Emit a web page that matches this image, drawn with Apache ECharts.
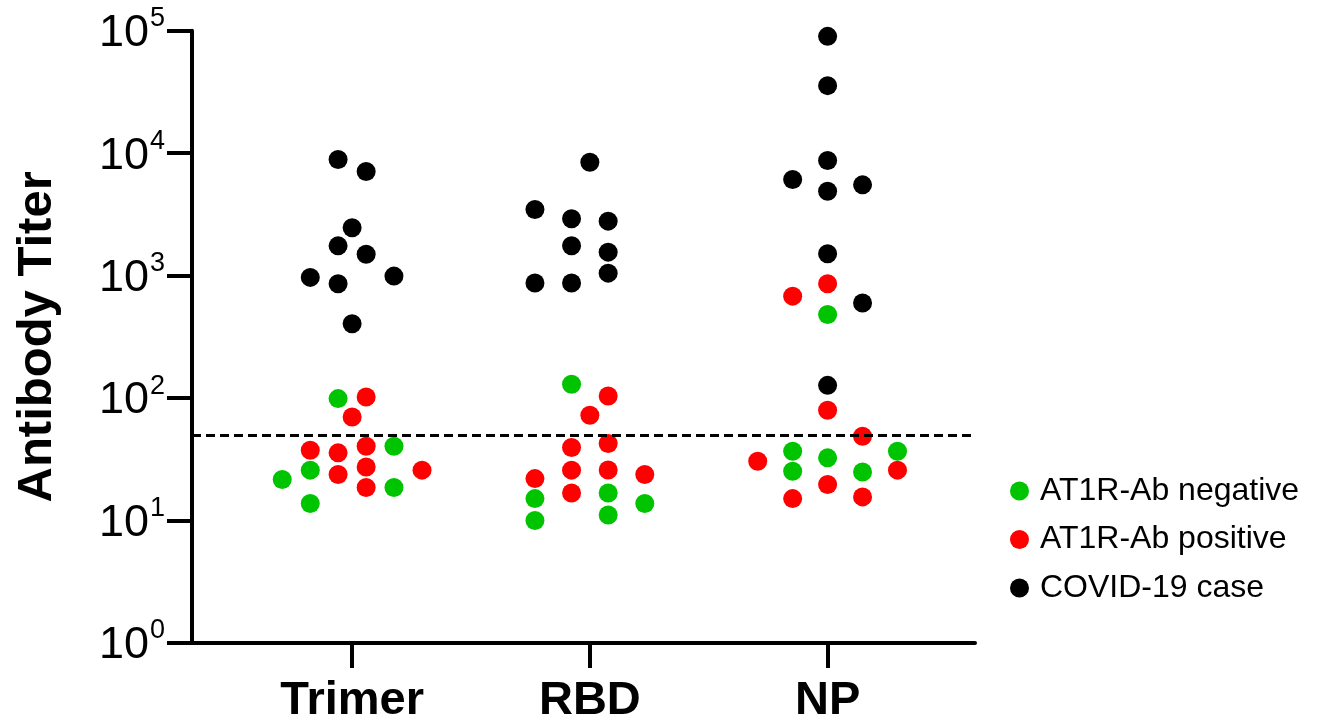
<!DOCTYPE html>
<html>
<head>
<meta charset="utf-8">
<script src="https://cdn.jsdelivr.net/npm/echarts@6/dist/echarts.min.js"></script>
<style>
html,body{margin:0;padding:0;background:#fff;}
#chart{width:1318px;height:721px;}
</style>
</head>
<body>
<div id="chart"></div>
<script>
// ---- data ----
const categories = ['Trimer', 'RBD', 'NP'];
const seriesNames = ['AT1R-Ab negative', 'AT1R-Ab positive', 'COVID-19 case'];
const yTickExponents = [0, 1, 2, 3, 4, 5];
const cutoffTiter = 50;

// titers per category [Trimer, RBD, NP]
const negativeTiter = [
  [99, 40.4, 25.8, 21.6, 18.6, 13.8],
  [129.6, 15.1, 16.8, 13.8, 10, 11.1],
  [482, 36.8, 32.5, 36.8, 25.3, 24.9]
];
const negativeJitter = [
  [-0.059, 0.176, -0.176, -0.294, 0.176, -0.176],
  [-0.077, -0.231, 0.077, 0.231, -0.231, 0.077],
  [0, -0.147, 0, 0.294, -0.147, 0.147]
];
const positiveTiter = [
  [102, 70, 37.5, 35.7, 40.4, 23.8, 27.4, 25.8, 18.6],
  [104, 72.4, 39.5, 42.5, 22, 25.8, 25.9, 23.8, 16.8],
  [859, 680, 79.5, 48.8, 30.5, 25.8, 19.7, 15.1, 15.6]
];
const positiveJitter = [
  [0.059, 0, -0.176, -0.059, 0.059, -0.059, 0.059, 0.294, 0.059],
  [0.077, 0, -0.077, 0.077, -0.231, -0.077, 0.077, 0.231, -0.077],
  [0, -0.147, 0, 0.147, -0.294, 0.294, 0, -0.147, 0.147]
];
const covidTiter = [
  [8870, 7080, 2460, 1750, 1497, 967, 859, 991, 405],
  [8430, 3467, 2911, 2785, 1754, 1555, 1048, 869, 869],
  [89900, 35600, 8700, 6090, 4890, 5510, 1508, 597, 127]
];
const covidJitter = [
  [-0.059, 0.059, 0, -0.059, 0.059, -0.176, -0.059, 0.176, 0],
  [0, -0.231, -0.077, 0.077, -0.077, 0.077, 0.077, -0.231, -0.077],
  [0, 0, 0, -0.147, 0, 0.147, 0, 0.147, 0]
];

function buildPoints(titers, jitters) {
  const pts = [];
  titers.forEach(function (arr, c) {
    arr.forEach(function (v, i) {
      pts.push([c + 1 + jitters[c][i], v]);
    });
  });
  return pts;
}

const FONT = '"Liberation Sans", Arial, Helvetica, sans-serif';
const chart = echarts.init(document.getElementById('chart'), null, {renderer: 'canvas'});

const dotSize = 19;
function scatter(name, color, titers, jitters) {
  return {
    name: name,
    type: 'scatter',
    z: 3,
    symbol: 'circle',
    symbolSize: dotSize,
    itemStyle: {color: color, opacity: 1},
    data: buildPoints(titers, jitters)
  };
}

const option = {
  animation: false,
  backgroundColor: '#ffffff',
  textStyle: {fontFamily: FONT},
  grid: {left: 192, right: 343, top: 30.7, bottom: 78, containLabel: false, outerBoundsMode: 'none'},
  legend: {
    orient: 'vertical',
    left: 1005,
    top: 470,
    itemWidth: 31,
    itemHeight: 19,
    itemGap: 16.5,
    icon: 'circle',
    data: seriesNames,
    textStyle: {fontSize: 32, color: '#000', fontFamily: FONT}
  },
  xAxis: {
    type: 'value',
    min: 0.3265,
    max: 3.62,
    axisLine: {show: true, lineStyle: {color: '#000', width: 4}},
    axisTick: {show: true, customValues: [1, 2, 3], length: 25, lineStyle: {color: '#000', width: 4}},
    axisLabel: {
      show: true,
      customValues: [1, 2, 3],
      formatter: function (v) { return categories[Math.round(v) - 1]; },
      fontSize: 47, fontWeight: 'bold', color: '#000', fontFamily: FONT, margin: 35
    },
    splitLine: {show: false}
  },
  yAxis: {
    type: 'log',
    logBase: 10,
    min: Math.pow(10, yTickExponents[0]),
    max: Math.pow(10, yTickExponents[yTickExponents.length - 1]),
    interval: 1,
    name: 'Antibody Titer',
    nameLocation: 'middle',
    nameGap: 130,
    nameTextStyle: {fontSize: 49, fontWeight: 'bold', color: '#000', fontFamily: FONT},
    axisLine: {show: true, lineStyle: {color: '#000', width: 4}},
    axisTick: {show: true, length: 25, lineStyle: {color: '#000', width: 4}},
    minorTick: {show: false},
    splitLine: {show: false},
    axisLabel: {
      margin: 27,
      formatter: function (v) {
        const e = Math.round(Math.log10(v));
        return '{b|10}{s|' + e + '}';
      },
      rich: {
        b: {fontSize: 45, color: '#000', fontFamily: FONT, padding: [6, 0, 0, 0]},
        s: {fontSize: 27, color: '#000', fontFamily: FONT, verticalAlign: 'top', padding: [0, 0, 0, 1]}
      }
    }
  },
  series: [
    {
      name: 'cutoff',
      type: 'scatter',
      z: 1,
      data: [],
      markLine: {
        silent: true,
        symbol: 'none',
        label: {show: false},
        lineStyle: {color: '#000', width: 3, type: [9, 5]},
        data: [{yAxis: cutoffTiter}]
      }
    },
    scatter(seriesNames[0], '#00c400', negativeTiter, negativeJitter),
    scatter(seriesNames[1], '#ff0000', positiveTiter, positiveJitter),
    scatter(seriesNames[2], '#000000', covidTiter, covidJitter)
  ]
};
chart.setOption(option);
</script>
</body>
</html>
